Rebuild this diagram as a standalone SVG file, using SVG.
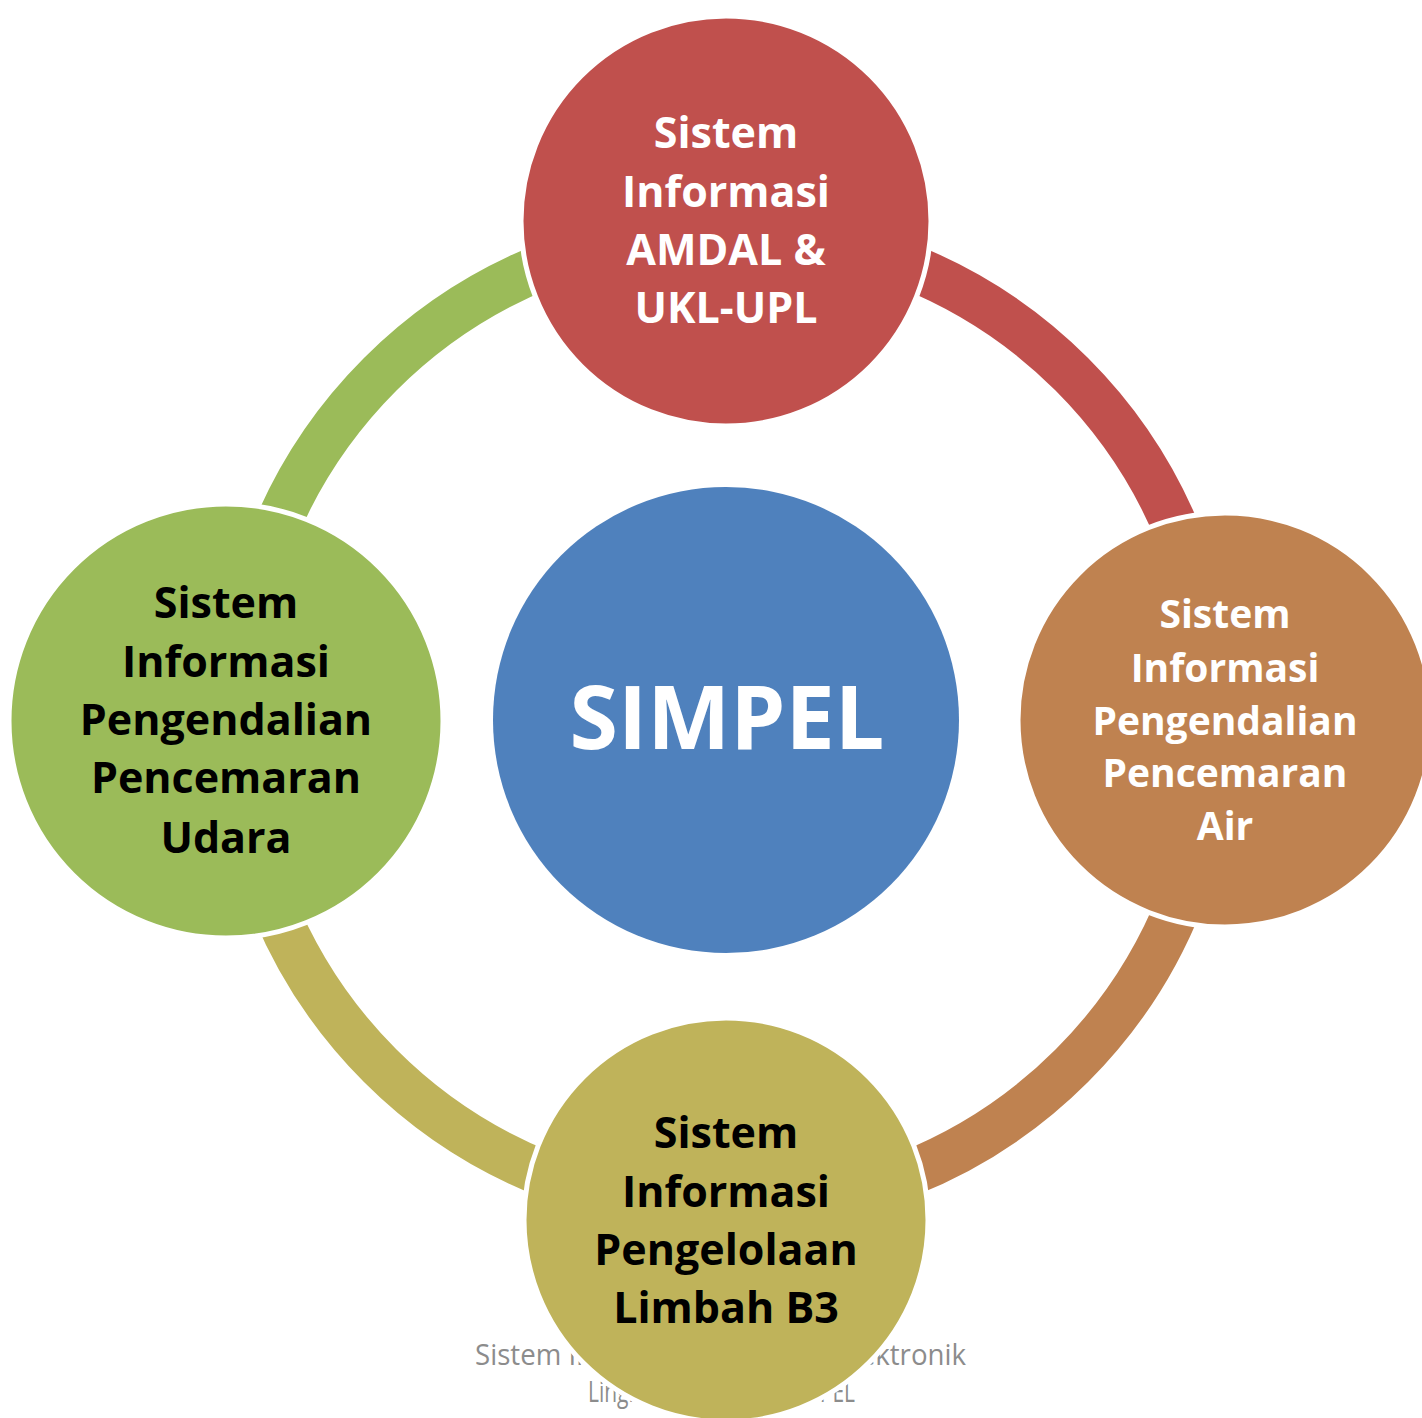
<svg xmlns="http://www.w3.org/2000/svg" width="1422" height="1418" viewBox="0 0 1422 1418">
<style>
.ring{fill:none;stroke-width:46}
.node{stroke:#ffffff;stroke-width:5}
.lbl{font-family:"Open Sans","Liberation Sans",sans-serif;font-weight:700;text-anchor:middle}
.big{font-size:43px}
.mid{font-size:39px}
.white{fill:#ffffff}
.black{fill:#000000}
.foot{font-family:"Open Sans","Liberation Sans",sans-serif;font-size:29px;fill:#8c8c8c;text-anchor:middle}
</style>
<rect width="1422" height="1418" fill="#ffffff"/>
<g id="connectors">
<path class="ring" stroke="#C0504D" d="M 726 231 A 489 489 0 0 1 1215 720"/>
<path class="ring" stroke="#BF8250" d="M 1215 720 A 489 489 0 0 1 726 1209"/>
<path class="ring" stroke="#BFB35A" d="M 726 1209 A 489 489 0 0 1 237 720"/>
<path class="ring" stroke="#9BBB59" d="M 237 720 A 489 489 0 0 1 726 231"/>
</g>
<g id="footer">
<text class="foot" x="720.5" y="1365" textLength="491" lengthAdjust="spacingAndGlyphs">Sistem Informasi Pelaporan Elektronik</text>
<text class="foot" x="721.5" y="1402" textLength="267" lengthAdjust="spacingAndGlyphs">Lingkungan Hidup - SIMPEL</text>
</g>
<g id="node-center">
<circle cx="726" cy="720" r="233" fill="#4F81BD"/>
<text class="lbl white" x="727" y="749" font-size="88">SIMPEL</text>
</g>
<g id="node-top">
<circle class="node" cx="726" cy="221" r="205" fill="#C0504D"/>
<text class="lbl big white" x="726"><tspan x="726" y="148">Sistem</tspan><tspan x="726" y="207">Informasi</tspan><tspan x="726" y="265">AMDAL &amp;</tspan><tspan x="726" y="323">UKL-UPL</tspan></text>
</g>
<g id="node-right">
<circle class="node" cx="1225" cy="720" r="207" fill="#BF8250"/>
<text class="lbl mid white"><tspan x="1225" y="628">Sistem</tspan><tspan x="1225" y="682">Informasi</tspan><tspan x="1225" y="735">Pengendalian</tspan><tspan x="1225" y="787">Pencemaran</tspan><tspan x="1225" y="840">Air</tspan></text>
</g>
<g id="node-bottom">
<circle class="node" cx="726" cy="1220" r="202" fill="#BFB35A"/>
<text class="lbl big black"><tspan x="726" y="1148">Sistem</tspan><tspan x="726" y="1207">Informasi</tspan><tspan x="726" y="1265">Pengelolaan</tspan><tspan x="726" y="1323">Limbah B3</tspan></text>
</g>
<g id="node-left">
<circle class="node" cx="226" cy="721" r="217" fill="#9BBB59"/>
<text class="lbl big black"><tspan x="226" y="618">Sistem</tspan><tspan x="226" y="677">Informasi</tspan><tspan x="226" y="735">Pengendalian</tspan><tspan x="226" y="793">Pencemaran</tspan><tspan x="226" y="853">Udara</tspan></text>
</g>
</svg>
